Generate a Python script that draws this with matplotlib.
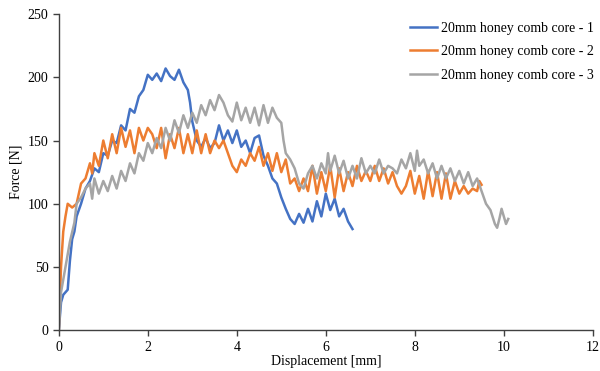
import matplotlib.pyplot as plt
import matplotlib.ticker as ticker

plt.rcParams['font.family'] = ['Liberation Serif', 'DejaVu Serif']

# 20mm honey comb core - 1
x1 = [0, 0.05, 0.1, 0.2, 0.25, 0.3, 0.35, 0.4, 0.5, 0.6, 0.7, 0.8, 0.9, 1.0,
      1.1, 1.2, 1.3, 1.4, 1.5, 1.6, 1.7, 1.8, 1.9, 2.0, 2.1, 2.2, 2.3, 2.4,
      2.5, 2.6, 2.7, 2.8, 2.9, 2.95, 3.0, 3.1, 3.2, 3.3, 3.4, 3.5, 3.6, 3.7,
      3.8, 3.9, 4.0, 4.1, 4.2, 4.3, 4.4, 4.5, 4.6, 4.7, 4.8, 4.9, 5.0, 5.1,
      5.2, 5.3, 5.4, 5.5, 5.6, 5.7, 5.8, 5.9, 6.0, 6.1, 6.2, 6.3, 6.4, 6.5, 6.6]
y1 = [0, 22, 28, 32, 55, 72, 78, 90, 100, 112, 118, 128, 125, 140,
      138, 150, 148, 162, 158, 175, 172, 185, 190, 202, 198, 203, 197, 207,
      201, 198, 206, 196, 190, 180, 165, 150, 145, 152, 144, 148, 162, 150,
      158, 148, 158, 145, 150, 140, 152, 154, 138, 130, 120, 116, 105, 96,
      88, 84, 92, 85, 96, 86, 102, 90, 108, 95, 104, 90, 96, 86, 80]

# 20mm honey comb core - 2
x2 = [0, 0.05, 0.1, 0.15, 0.2, 0.3, 0.4, 0.5, 0.6, 0.7, 0.75, 0.8, 0.9, 1.0,
      1.1, 1.2, 1.3, 1.4, 1.5, 1.6, 1.7, 1.8, 1.9, 2.0, 2.1, 2.2, 2.3, 2.4,
      2.5, 2.6, 2.7, 2.8, 2.9, 3.0, 3.1, 3.2, 3.3, 3.4, 3.5, 3.6, 3.7, 3.8,
      3.9, 4.0, 4.1, 4.2, 4.3, 4.4, 4.5, 4.6, 4.7, 4.8, 4.9, 5.0, 5.1, 5.2,
      5.3, 5.4, 5.5, 5.6, 5.7, 5.8, 5.9, 6.0, 6.1, 6.2, 6.3, 6.4, 6.5, 6.6,
      6.7, 6.8, 6.9, 7.0, 7.1, 7.2, 7.3, 7.4, 7.5, 7.6, 7.7, 7.8, 7.9, 8.0,
      8.1, 8.2, 8.3, 8.4, 8.5, 8.6, 8.7, 8.8, 8.9, 9.0, 9.1, 9.2, 9.3, 9.4,
      9.45, 9.5]
y2 = [0, 50, 78, 90, 100, 97, 100, 116, 120, 132, 124, 140, 130, 150,
      136, 155, 140, 160, 145, 158, 140, 160, 150, 160, 155, 144, 160, 136,
      155, 144, 160, 140, 155, 140, 158, 140, 155, 140, 150, 144, 150, 140,
      130, 125, 135, 130, 140, 134, 145, 130, 140, 126, 140, 125, 135, 116,
      120, 110, 120, 110, 130, 108, 125, 110, 130, 105, 128, 110, 125, 114,
      130, 118, 126, 118, 130, 118, 128, 116, 125, 114, 108, 114, 126, 108,
      122, 104, 126, 106, 125, 104, 124, 104, 118, 108, 114, 108, 112, 110,
      118, 115]

# 20mm honey comb core - 3
x3 = [0, 0.05, 0.15, 0.25, 0.35, 0.4, 0.5, 0.6, 0.7, 0.75, 0.8, 0.9, 1.0,
      1.1, 1.2, 1.3, 1.4, 1.5, 1.6, 1.7, 1.8, 1.9, 2.0, 2.1, 2.2, 2.3, 2.4,
      2.5, 2.6, 2.7, 2.8, 2.9, 3.0, 3.1, 3.2, 3.3, 3.4, 3.5, 3.6, 3.7, 3.8,
      3.9, 4.0, 4.1, 4.2, 4.3, 4.4, 4.5, 4.6, 4.7, 4.8, 4.9, 5.0, 5.05, 5.1,
      5.2, 5.3, 5.4, 5.5, 5.6, 5.7, 5.8, 5.9, 6.0, 6.05, 6.1, 6.2, 6.3, 6.4,
      6.5, 6.6, 6.7, 6.8, 6.9, 7.0, 7.1, 7.2, 7.3, 7.4, 7.5, 7.6, 7.7, 7.8,
      7.9, 8.0, 8.05, 8.1, 8.2, 8.3, 8.4, 8.5, 8.6, 8.7, 8.8, 8.9, 9.0, 9.1,
      9.2, 9.3, 9.4, 9.5, 9.6, 9.7, 9.8, 9.85, 9.9, 9.95, 10.0, 10.05, 10.1]
y3 = [0, 30, 50, 70, 85, 100, 105, 112, 116, 104, 120, 108, 118,
      110, 122, 112, 126, 118, 132, 124, 140, 134, 148, 140, 152, 144, 160,
      150, 166, 156, 170, 160, 172, 164, 178, 170, 182, 174, 186, 180, 170,
      165, 180, 166, 176, 164, 176, 162, 178, 164, 176, 168, 164, 150, 140,
      135, 128, 116, 112, 124, 130, 120, 132, 124, 140, 126, 138, 124, 134,
      120, 130, 120, 136, 124, 130, 124, 135, 124, 130, 128, 124, 135, 128,
      140, 126, 142, 130, 135, 124, 132, 120, 130, 120, 128, 118, 126, 116,
      125, 114, 120, 110, 100, 95, 84, 81, 88, 96, 90, 84, 88]

fig, ax = plt.subplots(figsize=(6, 3.71), dpi=100)
fig.subplots_adjust(left=0.098, right=0.988, top=0.962, bottom=0.11)

ax.plot(x1, y1, color='#4472C4', lw=1.8, label='20mm honey comb core - 1')
ax.plot(x2, y2, color='#ED7D31', lw=1.8, label='20mm honey comb core - 2')
ax.plot(x3, y3, color='#A5A5A5', lw=1.8, label='20mm honey comb core - 3')

ax.set_xlim(0, 12)
ax.set_ylim(0, 250)
ax.xaxis.set_major_locator(ticker.MultipleLocator(2))
ax.yaxis.set_major_locator(ticker.MultipleLocator(50))

for s in ['top', 'right']:
    ax.spines[s].set_visible(False)
for s in ['left', 'bottom']:
    ax.spines[s].set_color('#404040')
    ax.spines[s].set_linewidth(1.0)
ax.tick_params(axis='both', labelsize=10, color='#404040', length=4, width=1.0)

ax.set_xlabel('Displacement [mm]', fontsize=10, labelpad=1)
ax.set_ylabel('Force [N]', fontsize=10, labelpad=4)

ax.legend(loc='upper right', frameon=False, fontsize=10, handlelength=2.0,
          handletextpad=0.25, labelspacing=0.75, bbox_to_anchor=(1.025, 1.015))

plt.savefig('out.png', dpi=100)
